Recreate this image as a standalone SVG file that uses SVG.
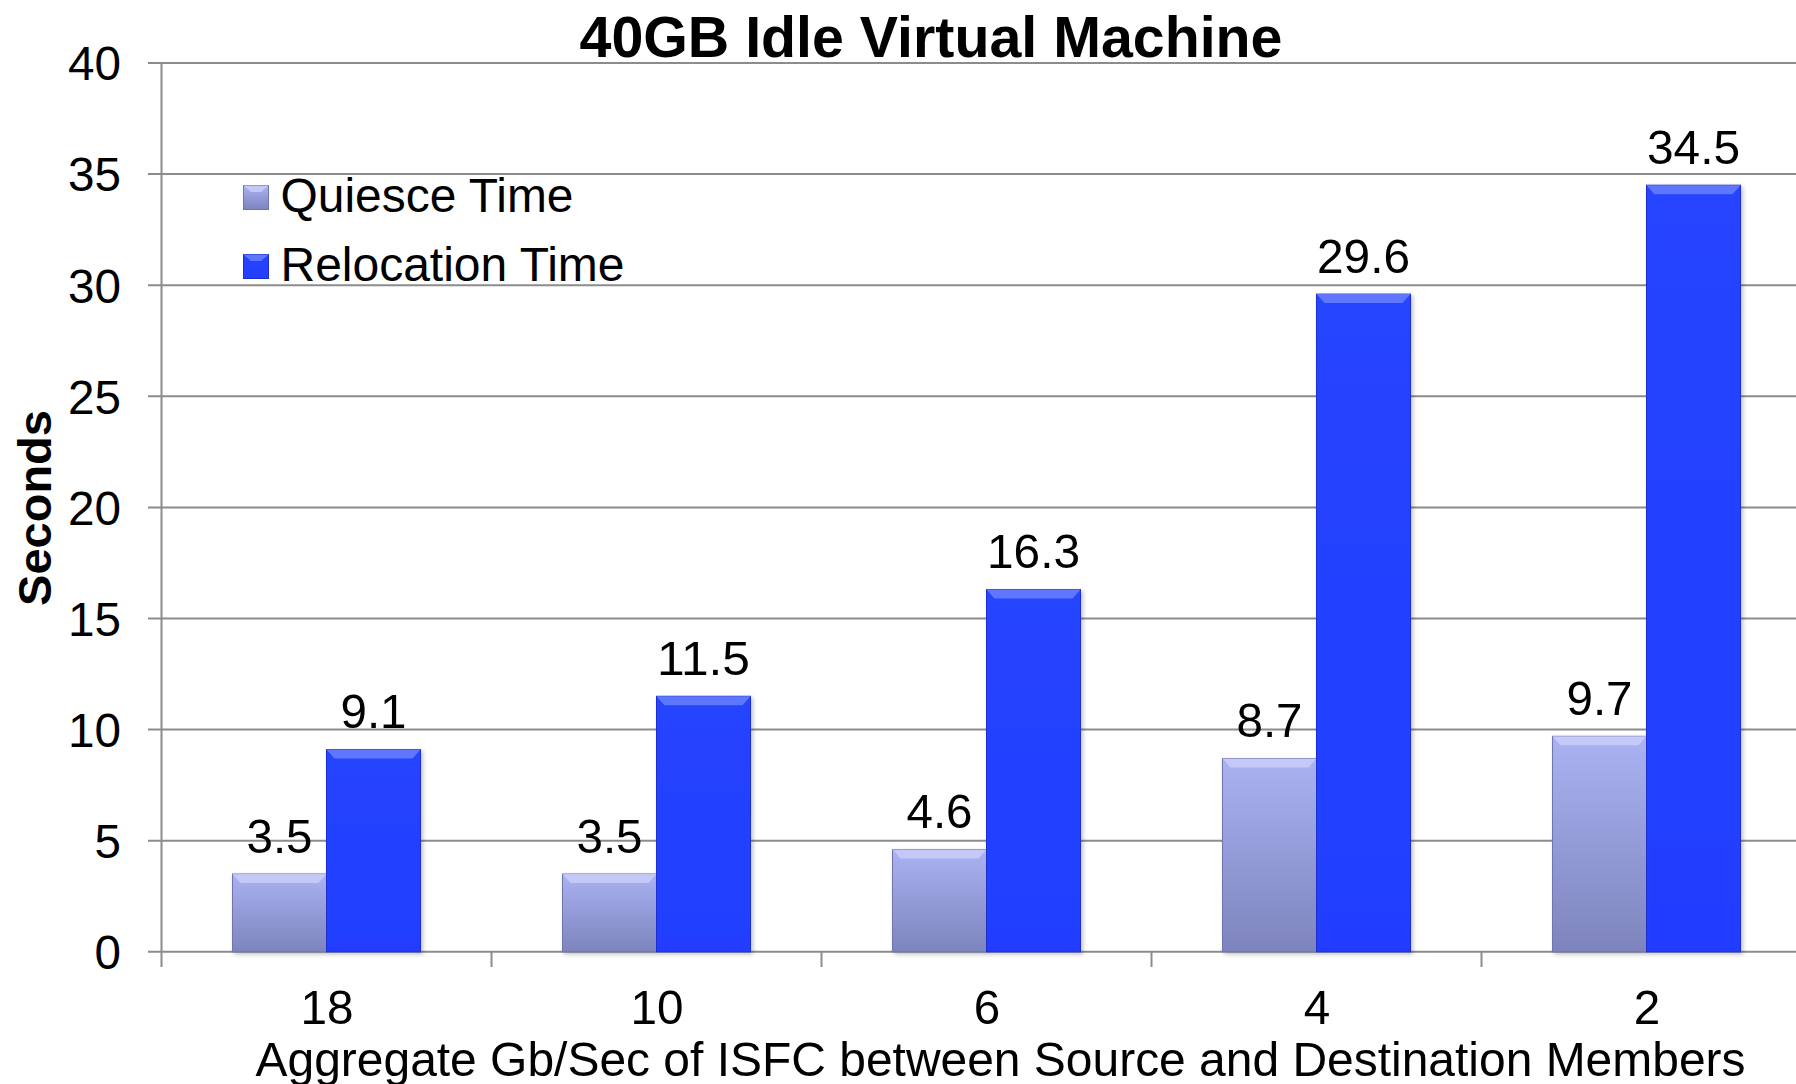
<svg xmlns="http://www.w3.org/2000/svg" width="1796" height="1084" viewBox="0 0 1796 1084">
  <style>
    .grid { stroke: #8c8c8c; stroke-width: 2; fill: none; }
    .axis { stroke: #8c8c8c; stroke-width: 2; fill: none; }
    .lbl { font-family: "Liberation Sans", Arial, sans-serif; font-size: 48px; fill: #000; }
    .ytick { text-anchor: end; }
    .mid { text-anchor: middle; }
    .title { font-family: "Liberation Sans", Arial, sans-serif; font-size: 57px; font-weight: bold; fill: #000; text-anchor: middle; }
    .ytitle { font-family: "Liberation Sans", Arial, sans-serif; font-size: 47px; font-weight: bold; fill: #000; text-anchor: middle; }
    .q { fill: url(#gq); stroke: #6f76ad; stroke-width: 1; }
    .r { fill: url(#gr); stroke: #1a2fd0; stroke-width: 1; }
    .qb { fill: #cdd2fb; opacity: 0.75; }
    .rb { fill: #6a80ff; opacity: 0.85; }
  </style>
  <defs>
    <linearGradient id="gq" x1="0" y1="0" x2="0" y2="1">
      <stop offset="0" stop-color="#aab2f2"/>
      <stop offset="1" stop-color="#7d84bd"/>
    </linearGradient>
    <linearGradient id="gr" x1="0" y1="0" x2="0" y2="1">
      <stop offset="0" stop-color="#2544ff"/>
      <stop offset="1" stop-color="#233eff"/>
    </linearGradient>
    <filter id="sh" x="-10%" y="-5%" width="130%" height="115%">
      <feDropShadow dx="2" dy="2" stdDeviation="2" flood-color="#000" flood-opacity="0.25"/>
    </filter>
  </defs>

  <rect width="1796" height="1084" fill="#ffffff"/>

  <!-- gridlines and y ticks -->
  <g id="grid">
    <line class="grid" x1="148" y1="951.8" x2="1796" y2="951.8"/>
    <line class="grid" x1="148" y1="840.7" x2="1796" y2="840.7"/>
    <line class="grid" x1="148" y1="729.6" x2="1796" y2="729.6"/>
    <line class="grid" x1="148" y1="618.5" x2="1796" y2="618.5"/>
    <line class="grid" x1="148" y1="507.4" x2="1796" y2="507.4"/>
    <line class="grid" x1="148" y1="396.3" x2="1796" y2="396.3"/>
    <line class="grid" x1="148" y1="285.2" x2="1796" y2="285.2"/>
    <line class="grid" x1="148" y1="174.1" x2="1796" y2="174.1"/>
    <line class="grid" x1="148" y1="63" x2="1796" y2="63"/>
  </g>

  <!-- axes -->
  <g id="axes">
    <line class="axis" x1="161.5" y1="63" x2="161.5" y2="967"/>
    <line class="axis" x1="491.5" y1="952" x2="491.5" y2="967"/>
    <line class="axis" x1="821.5" y1="952" x2="821.5" y2="967"/>
    <line class="axis" x1="1151.5" y1="952" x2="1151.5" y2="967"/>
    <line class="axis" x1="1481.5" y1="952" x2="1481.5" y2="967"/>
  </g>

  <!-- y tick labels -->
  <g id="ylabels" class="lbl ytick">
    <text x="121" y="969" textLength="26.5" lengthAdjust="spacingAndGlyphs">0</text>
    <text x="121" y="858" textLength="26.5" lengthAdjust="spacingAndGlyphs">5</text>
    <text x="121" y="747" textLength="53" lengthAdjust="spacingAndGlyphs">10</text>
    <text x="121" y="635.5" textLength="53" lengthAdjust="spacingAndGlyphs">15</text>
    <text x="121" y="524.5" textLength="53" lengthAdjust="spacingAndGlyphs">20</text>
    <text x="121" y="413.5" textLength="53" lengthAdjust="spacingAndGlyphs">25</text>
    <text x="121" y="302.5" textLength="53" lengthAdjust="spacingAndGlyphs">30</text>
    <text x="121" y="191" textLength="53" lengthAdjust="spacingAndGlyphs">35</text>
    <text x="121" y="80" textLength="53" lengthAdjust="spacingAndGlyphs">40</text>
  </g>

  <text id="title" class="title" x="931" y="57" textLength="703" lengthAdjust="spacingAndGlyphs">40GB Idle Virtual Machine</text>
  <text id="ytitle" class="ytitle" transform="translate(51,508) rotate(-90)">Seconds</text>

  <!-- legend -->
  <g id="legend">
    <g id="legend-quiesce">
      <rect class="q" x="243.5" y="185.5" width="25" height="24"/>
      <polygon class="qb" points="243.5,185.5 268.5,185.5 261,192 251,192"/>
      <text class="lbl" x="280.5" y="212" textLength="293" lengthAdjust="spacingAndGlyphs">Quiesce Time</text>
    </g>
    <g id="legend-relocation">
      <rect class="r" x="243.5" y="254.5" width="25" height="24"/>
      <polygon class="rb" points="243.5,254.5 268.5,254.5 261,261 251,261"/>
      <text class="lbl" x="280.5" y="281" textLength="344" lengthAdjust="spacingAndGlyphs">Relocation Time</text>
    </g>
  </g>

  <!-- bars: quiesce (left) and relocation (right) per group -->
  <g id="bars" filter="url(#sh)">
    <g id="g18">
      <rect class="q" x="232.5" y="874" width="94" height="77.8"/>
      <polygon class="qb" points="232.5,874 326.5,874 318.5,883 240.5,883"/>
      <rect class="r" x="326.5" y="749.6" width="94" height="202.2"/>
      <polygon class="rb" points="326.5,749.6 420.5,749.6 412.5,758.6 334.5,758.6"/>
    </g>
    <g id="g10">
      <rect class="q" x="562.5" y="874" width="94" height="77.8"/>
      <polygon class="qb" points="562.5,874 656.5,874 648.5,883 570.5,883"/>
      <rect class="r" x="656.5" y="696.3" width="94" height="255.5"/>
      <polygon class="rb" points="656.5,696.3 750.5,696.3 742.5,705.3 664.5,705.3"/>
    </g>
    <g id="g6">
      <rect class="q" x="892.5" y="849.6" width="94" height="102.2"/>
      <polygon class="qb" points="892.5,849.6 986.5,849.6 978.5,858.6 900.5,858.6"/>
      <rect class="r" x="986.5" y="589.6" width="94" height="362.2"/>
      <polygon class="rb" points="986.5,589.6 1080.5,589.6 1072.5,598.6 994.5,598.6"/>
    </g>
    <g id="g4">
      <rect class="q" x="1222.5" y="758.5" width="94" height="193.3"/>
      <polygon class="qb" points="1222.5,758.5 1316.5,758.5 1308.5,767.5 1230.5,767.5"/>
      <rect class="r" x="1316.5" y="294.1" width="94" height="657.7"/>
      <polygon class="rb" points="1316.5,294.1 1410.5,294.1 1402.5,303.1 1324.5,303.1"/>
    </g>
    <g id="g2">
      <rect class="q" x="1552.5" y="736.3" width="94" height="215.5"/>
      <polygon class="qb" points="1552.5,736.3 1646.5,736.3 1638.5,745.3 1560.5,745.3"/>
      <rect class="r" x="1646.5" y="185.2" width="94" height="766.6"/>
      <polygon class="rb" points="1646.5,185.2 1740.5,185.2 1732.5,194.2 1654.5,194.2"/>
    </g>
  </g>

  <!-- value labels -->
  <g id="values" class="lbl mid">
    <text x="279.5" y="852.5" textLength="66" lengthAdjust="spacingAndGlyphs">3.5</text>
    <text x="373.5" y="728" textLength="66" lengthAdjust="spacingAndGlyphs">9.1</text>
    <text x="609.5" y="852.5" textLength="66" lengthAdjust="spacingAndGlyphs">3.5</text>
    <text x="703.5" y="675" textLength="93" lengthAdjust="spacingAndGlyphs">11.5</text>
    <text x="939.5" y="828" textLength="66" lengthAdjust="spacingAndGlyphs">4.6</text>
    <text x="1033.5" y="568" textLength="93" lengthAdjust="spacingAndGlyphs">16.3</text>
    <text x="1269.5" y="737" textLength="66" lengthAdjust="spacingAndGlyphs">8.7</text>
    <text x="1363.5" y="272.5" textLength="93" lengthAdjust="spacingAndGlyphs">29.6</text>
    <text x="1599.5" y="715" textLength="66" lengthAdjust="spacingAndGlyphs">9.7</text>
    <text x="1693.5" y="163.5" textLength="93" lengthAdjust="spacingAndGlyphs">34.5</text>
  </g>

  <!-- category labels and x axis title -->
  <g id="xlabels" class="lbl mid">
    <text x="327" y="1024" textLength="53" lengthAdjust="spacingAndGlyphs">18</text>
    <text x="657" y="1024" textLength="53" lengthAdjust="spacingAndGlyphs">10</text>
    <text x="987" y="1024" textLength="26.5" lengthAdjust="spacingAndGlyphs">6</text>
    <text x="1317" y="1024" textLength="26.5" lengthAdjust="spacingAndGlyphs">4</text>
    <text x="1647" y="1024" textLength="26.5" lengthAdjust="spacingAndGlyphs">2</text>
    <text id="xtitle" x="1000.5" y="1076" textLength="1490" lengthAdjust="spacingAndGlyphs">Aggregate Gb/Sec of ISFC between Source and Destination Members</text>
  </g>
</svg>
